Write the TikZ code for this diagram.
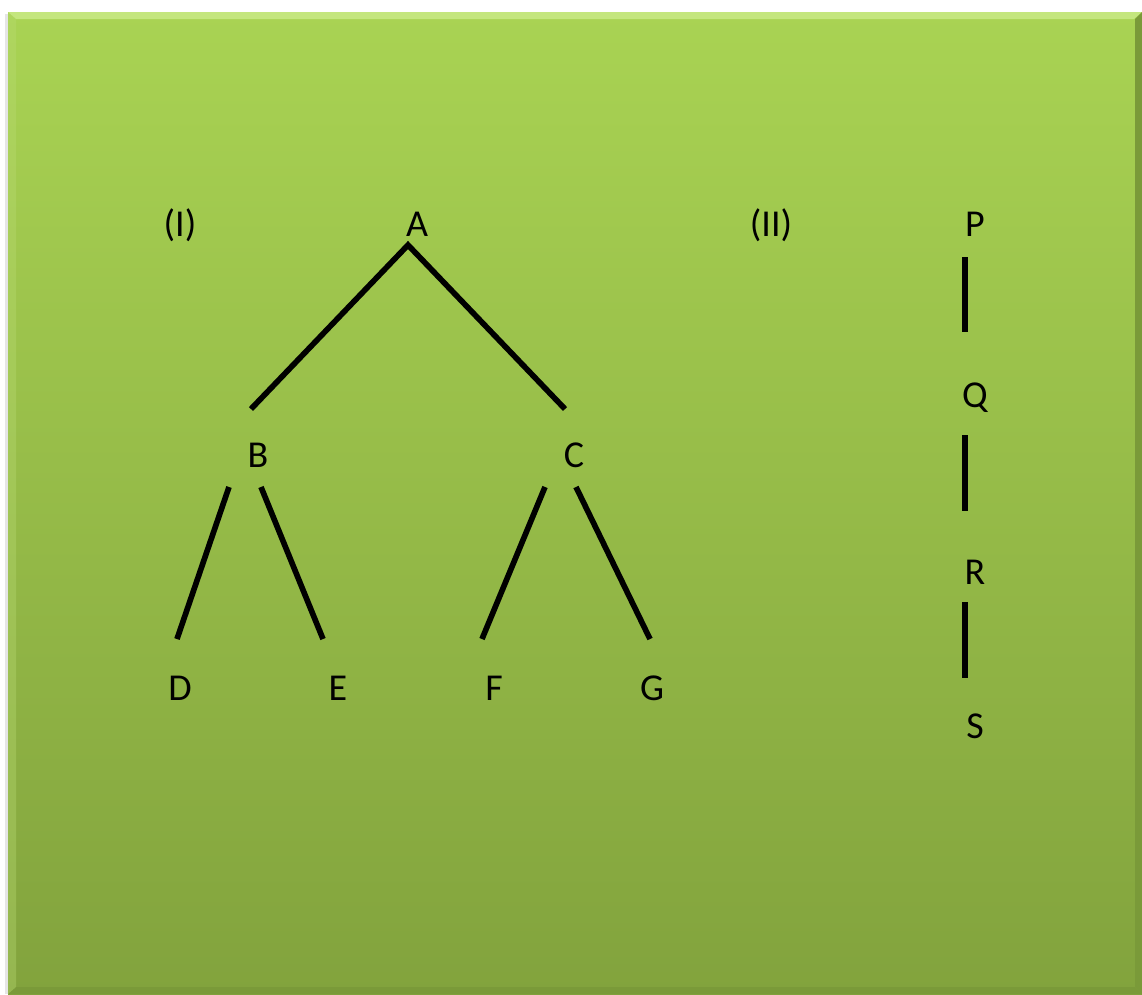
\documentclass[tikz,border=0pt]{standalone}
\usepackage{fontspec}
\setmainfont{Carlito}
\definecolor{gtop}{HTML}{A9D353}
\definecolor{gbot}{HTML}{82A33D}
\definecolor{gedge}{HTML}{C4E67E}
\definecolor{gdark}{HTML}{6E8C32}
\begin{document}
\begin{tikzpicture}[x=1pt,y=-1pt,
  lbl/.style={inner sep=0pt,font=\fontsize{38}{40}\selectfont},
  edge/.style={line width=5.6pt,black,line cap=butt}]
\useasboundingbox (0,0) rectangle (1142,994);
\fill[white] (0,0) rectangle (1142,994);
% soft shadow on left
\fill[black!10] (5,14) rectangle (9,994);
% background panel
\shade[top color=gtop,bottom color=gbot] (8,12) rectangle (1142,994);
% bevel edges
\fill[gedge] (8,12) -- (1142,12) -- (1134,19) -- (16,19) -- cycle;
\fill[gdark!40!gbot] (1142,12) -- (1142,994) -- (1135,987) -- (1135,19) -- cycle;
\fill[gdark!40!gbot] (8,994) -- (1142,994) -- (1135,987) -- (16,987) -- cycle;
\fill[gtop!80!white,opacity=0.35] (8,12) -- (16,19) -- (16,987) -- (8,994) -- cycle;

% labels
\node[lbl] (I) at (180,225) {(I)};
\node[lbl] (A) at (417,224) {A};
\node[lbl] (B) at (258,455) {B};
\node[lbl] (C) at (574,455) {C};
\node[lbl] (D) at (180,688) {D};
\node[lbl] (E) at (338,688) {E};
\node[lbl] (F) at (494,688) {F};
\node[lbl] (G) at (652,688) {G};
\node[lbl] (II) at (771,225) {(II)};
\node[lbl] (P) at (975,224) {P};
\node[lbl] (Q) at (975,398) {Q};
\node[lbl] (R) at (975,572) {R};
\node[lbl] (S) at (975,726) {S};

% connector end points
\coordinate (a0) at (408,245);
\coordinate (ab) at (251,409);
\coordinate (ac) at (565,409);
\coordinate (bd0) at (229,487);
\coordinate (bd) at (177,639);
\coordinate (be0) at (261,487);
\coordinate (be) at (323,639);
\coordinate (cf0) at (545,487);
\coordinate (cf) at (482,639);
\coordinate (cg0) at (576,487);
\coordinate (cg) at (650,639);
\coordinate (pq0) at (965,257);
\coordinate (pq) at (965,332);
\coordinate (qr0) at (965,435);
\coordinate (qr) at (965,511);
\coordinate (rs0) at (965,602);
\coordinate (rs) at (965,678);

% shadows
\begin{scope}[shift={(1.5,2.5)}]
\draw[line width=5.6pt,black,opacity=0.15] (ab) -- (a0) -- (ac);
\foreach \u/\v in {bd0/bd,be0/be,cf0/cf,cg0/cg,pq0/pq,qr0/qr,rs0/rs}
  \draw[line width=5.6pt,black,opacity=0.15] (\u) -- (\v);
\end{scope}
% connectors
\draw[edge,line join=miter] (ab) -- (a0) -- (ac);
\draw[edge] (bd0) -- (bd);
\draw[edge] (be0) -- (be);
\draw[edge] (cf0) -- (cf);
\draw[edge] (cg0) -- (cg);
\draw[edge] (pq0) -- (pq);
\draw[edge] (qr0) -- (qr);
\draw[edge] (rs0) -- (rs);
\end{tikzpicture}
\end{document}
